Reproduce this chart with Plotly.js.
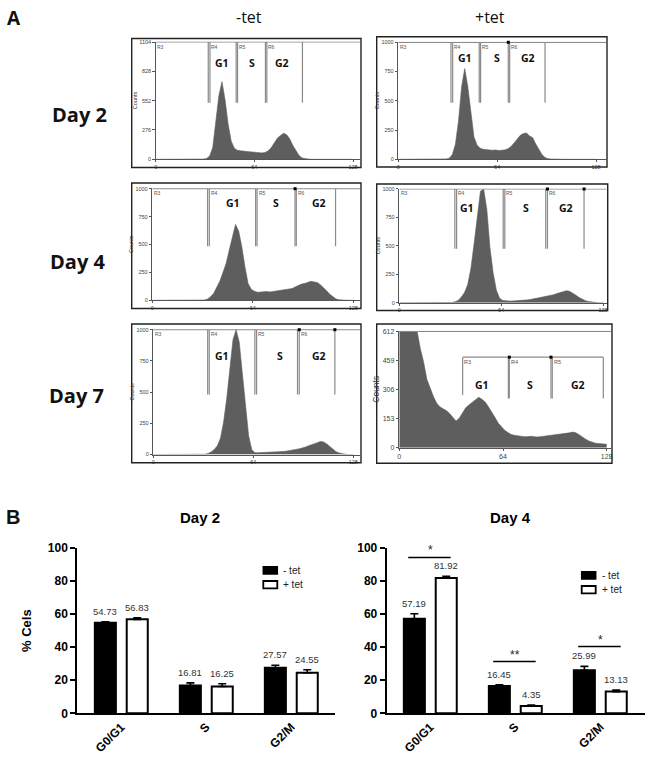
<!DOCTYPE html>
<html><head><meta charset="utf-8">
<script src="https://cdn.plot.ly/plotly-3.0.1.min.js"></script>
<style>html,body{margin:0;padding:0;background:#fff;}#chart{width:650px;height:759px;}</style>
</head><body><div id="chart"></div>
<script>
// ---------- Panel A : DNA-content histograms (channel bins of width 2) ----------
const channels = [0,2,4,6,8,10,12,14,16,18,20,22,24,26,28,30,32,34,36,38,40,42,44,46,48,50,52,54,56,58,60,62,64,66,68,70,72,74,76,78,80,82,84,86,88,90,92,94,96,98,100,102,104,106,108,110,112,114,116,118,120,122,124,126];

const countsDay2MinusTet = [0,0,0,0,0,0,0,0,0,0,0,0,0,0,0, 2,8,30,110,330,600,730,560,330,170, 105,85,80,75,72,70,68,65,62,60, 65,80,110,150,200,225,245,230,190,130, 80,35,12,5,2, 0,0,0,0,0,0,0,0,0,0,0,0,0,0];
const countsDay2PlusTet = [0,0,0,0,0,0,0,0,0,0,0,0,0,0,0, 3,10,40,130,330,620,775,620,380,190, 120,95,85,80,80,78,80,75,78,80, 90,110,140,175,205,220,225,200,185,130, 80,40,15,5,2, 0,0,0,0,0,0,0,0,0,0,0,0,0,0];
const countsDay4MinusTet = [0,0,0,0,0,0,0,0,0,0,0,0,0,0,0,0, 2,10,30,60,110,170,250,330,450,560, 680,620,480,300,150,100,80,72,75,72, 78,75,80,85,88,95,100,100,105,120, 135,145,150,160,170,165,160,140,115,85, 55,30,12,4,1, 0,0,0];
const countsDay4PlusTet = [0,0,0,0,0,0,0,0,0,0,0,0,0,0,0,0, 2,8,20,50,90,160,300,520,760,980, 1000,820,480,260,110,40,20,15,14,15, 16,18,20,22,25,30,35,40,45,50, 55,62,70,80,90,100,105,100,85,65, 45,30,18,10,5,2, 0,0];
const countsDay7MinusTet = [0,0,0,0,0,0,0,0,0,0,0,0,0,0,0,0, 2,8,20,40,70,130,260,450,700,920, 1000,900,650,380,150,40,15,14,15,14, 16,15,18,20,22,24,27,30,35,40, 45,50,58,68,75,85,95,105,100,85, 65,40,22,12,5,2, 0,0];
const countsDay7PlusTet = [612,612,612,612,612,612, 520,450,360,310,270,235,215,205,195,180, 160,140,155,185,210,225,240,255,265,255, 240,215,190,160,130,110,92,80,70,65, 62,60,58,58,60,58,56,58,60,62, 63,65,68,70,72,75,78,82,78,68, 55,45,35,28,24,22,20,18];

const xTicksHist = [0,64,128];
const yTicksDay2MinusTet = [0,276,552,828,1104];
const yTicksThousand = [0,250,500,750,1000];
const yTicksDay7PlusTet = [0,153,306,459,612];

const phaseNames = ['G1','S','G2'];
const gateNamesA = ['R3','R4','R5','R6'];
const gateNamesB = ['R3','R4','R5'];

// gate marker positions (channel)
const gateEdgesDay2Minus = [34.1,35.2,52.2,53.1,71.2,72.1,95.2];
const gateEdgesDay2Plus  = [34.1,35.2,52.4,53.3,71.2,72.1,95.0];
const gateEdgesDay4Minus = [35.2,36.3,65.8,66.7,90.9,91.7,116.7];
const gateEdgesDay4Plus  = [34.9,36.0,65.3,66.3,92.0,93.1,116.1];
const gateEdgesDay7Minus = [34.8,35.8,65.0,66.1,92.3,93.4,116.2];
const gateEdgesDay7Plus  = [39.1,67.3,67.9,93.6,94.4,125.9];
const gateBottomsDay7Plus = [277,259,259,259,259,259];

const gateStartsDay2Minus = [0,35.2,53.1,72.1];
const gateStartsDay2Plus  = [0,35.2,53.3,72.1];
const gateStartsDay4Minus = [0,36.3,66.7,91.7];
const gateStartsDay4Plus  = [0,36.0,66.3,93.1];
const gateStartsDay7Minus = [0,35.8,66.1,93.4];
const gateStartsDay7Plus  = [39.1,67.9,94.4];

const phaseXDay2Minus = [42.8,62.6,82.2];
const phaseXDay2Plus  = [43.2,63.7,83.7];
const phaseXDay4Minus = [51.2,78.5,106.3];
const phaseXDay4Plus  = [42.3,79.3,105.0];
const phaseXDay7Minus = [43.7,81.0,106.2];
const phaseXDay7Plus  = [50.8,80.7,110.5];

const dotsDay2Plus = [71.2];
const dotsDay4Minus = [90.9];
const dotsDay4Plus = [93.1,116.1];
const dotsDay7Minus = [93.4,116.2];
const dotsDay7Plus = [67.9,93.6];

// ---------- Panel B : % cells per phase ----------
const phasesB = ['G0/G1','S','G2/M'];
const minusTetDay2 = [54.73,16.81,27.57];
const plusTetDay2  = [56.83,16.25,24.55];
const minusTetDay2Err = [0.6,1.6,1.5];
const plusTetDay2Err  = [1.0,1.6,1.8];
const minusTetDay4 = [57.19,16.45,25.99];
const plusTetDay4  = [81.92,4.35,13.13];
const minusTetDay4Err = [3.0,0.8,2.4];
const plusTetDay4Err  = [1.0,0.6,1.0];
const sigDay4Y = [94.3,31.3,40.4];
const sigDay4Marks = ['*','**','*'];

// ---------- layout helpers ----------
const W = 650, H = 759;
const fx = p => p / W, fy = p => 1 - p / H;
const SANS = 'Liberation Sans, Arial, sans-serif';
const CAL = 'Open Sans, Noto Sans, sans-serif';

const panels = [
  {counts: countsDay2MinusTet, ymax: 1104, yt: yTicksDay2MinusTet, edges: gateEdgesDay2Minus, bottom: 533, gateTop: null, starts: gateStartsDay2Minus, names: gateNamesA, phaseX: phaseXDay2Minus, phaseY: 903, dots: [], px0: 155.7, px128: 353, right: 360, py0: 159.3, pyTop: 42, box: [131.7,38.5,361,167.5], fs: 5.5},
  {counts: countsDay2PlusTet, ymax: 1000, yt: yTicksThousand, edges: gateEdgesDay2Plus, bottom: 484, gateTop: null, starts: gateStartsDay2Plus, names: gateNamesA, phaseX: phaseXDay2Plus, phaseY: 863, dots: dotsDay2Plus, px0: 398.3, px128: 596, right: 606, py0: 159.3, pyTop: 42.3, box: [376.7,36.7,607,167], fs: 5.5},
  {counts: countsDay4MinusTet, ymax: 1000, yt: yTicksThousand, edges: gateEdgesDay4Minus, bottom: 484, gateTop: null, starts: gateStartsDay4Minus, names: gateNamesA, phaseX: phaseXDay4Minus, phaseY: 872, dots: dotsDay4Minus, px0: 152.3, px128: 353.3, right: 360, py0: 300.3, pyTop: 188.7, box: [131.7,183,361,308.5], fs: 5.5},
  {counts: countsDay4PlusTet, ymax: 1000, yt: yTicksThousand, edges: gateEdgesDay4Plus, bottom: 475, gateTop: null, starts: gateStartsDay4Plus, names: gateNamesA, phaseX: phaseXDay4Plus, phaseY: 833, dots: dotsDay4Plus, px0: 399.3, px128: 603, right: 606.7, py0: 302.7, pyTop: 189, box: [376.7,184,607.7,310.5], fs: 5.5},
  {counts: countsDay7MinusTet, ymax: 1000, yt: yTicksThousand, edges: gateEdgesDay7Minus, bottom: 481, gateTop: null, starts: gateStartsDay7Minus, names: gateNamesA, phaseX: phaseXDay7Minus, phaseY: 788, dots: dotsDay7Minus, px0: 153.3, px128: 353.3, right: 360, py0: 454.5, pyTop: 329.7, box: [131.7,324,361,462.7], fs: 5.5},
  {counts: countsDay7PlusTet, ymax: 612, yt: yTicksDay7PlusTet, edges: gateEdgesDay7Plus, bottoms: gateBottomsDay7Plus, gateTop: 476, starts: gateStartsDay7Plus, names: gateNamesB, phaseX: phaseXDay7Plus, phaseY: 330, dots: dotsDay7Plus, px0: 399.3, px128: 606.7, right: 611, py0: 447.7, pyTop: 331.3, box: [376.7,324,612,463.3], fs: 7}
];

const traces = [], annotations = [], shapes = [];
const layout = {
  width: W, height: H, autosize: false,
  margin: {l: 0, r: 0, t: 0, b: 0, pad: 0},
  paper_bgcolor: '#fff', plot_bgcolor: 'rgba(0,0,0,0)',
  showlegend: false, barmode: 'group', bargap: 0.25, bargroupgap: 0.34,
  font: {family: SANS, color: '#000'}
};

const PAD = 1.004;
panels.forEach((p, i) => {
  const n = i + 1;
  const xa = n === 1 ? 'x' : 'x' + n, ya = n === 1 ? 'y' : 'y' + n;
  const pxPerCh = (p.px128 - p.px0) / 128;
  const xmax = (p.right - p.px0) / pxPerCh;
  const topPix = p.py0 - (p.py0 - p.pyTop) * PAD;
  layout['xaxis' + (n === 1 ? '' : n)] = {
    domain: [fx(p.px0), fx(p.right)], range: [0, xmax], anchor: ya,
    tickvals: xTicksHist, ticktext: xTicksHist.map(String), ticks: 'outside', ticklen: 2, tickcolor: '#555',
    showline: true, linecolor: '#555', linewidth: 1, showgrid: false, zeroline: false,
    tickfont: {family: SANS, size: p.fs, color: '#444'}, fixedrange: true
  };
  layout['yaxis' + (n === 1 ? '' : n)] = {
    domain: [fy(p.py0), fy(topPix)], range: [0, p.ymax * PAD], anchor: xa,
    tickvals: p.yt, ticktext: p.yt.map(String), ticks: 'outside', ticklen: 2.5, tickcolor: '#555',
    showline: true, linecolor: '#555', linewidth: 1, showgrid: false, zeroline: false,
    tickfont: {family: SANS, size: p.fs, color: '#444'},
    title: {text: 'Counts', font: {family: SANS, size: p.fs + (n === 6 ? 1.5 : 0), color: '#333'}, standoff: 1},
    fixedrange: true
  };
  // histogram: each bin plotted at its centre channel
  const hx = [0].concat(channels.map(c => c + 1), [128]);
  const hy = [p.counts[0]].concat(p.counts, [p.counts[p.counts.length - 1]]);
  traces.push({
    type: 'scatter', mode: 'lines', xaxis: xa, yaxis: ya, hoverinfo: 'skip',
    x: hx, y: hy, line: {shape: 'linear', width: 0.6, color: '#5e5e5e'}, fill: 'tozeroy', fillcolor: '#5e5e5e'
  });
  // gate markers
  const gx = [], gy = [];
  gx.push(0, xmax, null); gy.push(p.ymax, p.ymax, null);
  if (p.gateTop === null) {
    p.edges.forEach(e => { gx.push(e, e, null); gy.push(p.ymax, p.bottom, null); });
  } else {
    gx.push(p.edges[0], p.edges[p.edges.length - 1], null); gy.push(p.gateTop, p.gateTop, null);
    p.edges.forEach((e, k) => { gx.push(e, e, null); gy.push(p.gateTop, p.bottoms[k], null); });
  }
  traces.push({type: 'scatter', mode: 'lines', xaxis: xa, yaxis: ya, hoverinfo: 'skip',
    x: gx, y: gy, line: {color: '#8a8a8a', width: 1.2}});
  if (p.dots.length) {
    const yy = p.gateTop === null ? p.ymax : p.gateTop;
    traces.push({type: 'scatter', mode: 'markers', xaxis: xa, yaxis: ya, hoverinfo: 'skip', cliponaxis: false,
      x: p.dots, y: p.dots.map(() => yy), marker: {symbol: 'square', size: 3, color: '#000'}});
  }
  // gate names
  const gTop = p.gateTop === null ? p.ymax : p.gateTop;
  p.names.forEach((nm, k) => {
    annotations.push({xref: xa, yref: ya, x: p.starts[k], y: gTop, text: nm, showarrow: false,
      xanchor: 'left', yanchor: 'top', xshift: 0.5, yshift: -0.5, borderpad: 0,
      font: {family: SANS, size: n === 6 ? 5.5 : 5, color: '#555'}});
  });
  // phase labels
  phaseNames.forEach((nm, k) => {
    annotations.push({xref: xa, yref: ya, x: p.phaseX[k], y: p.phaseY, text: nm, showarrow: false,
      xanchor: 'center', yanchor: 'middle', font: {family: CAL, size: 10.5, weight: 'bold', color: '#111'}});
  });
  // frame
  shapes.push({type: 'rect', xref: 'paper', yref: 'paper', x0: fx(p.box[0]), x1: fx(p.box[2]), y0: fy(p.box[3]), y1: fy(p.box[1]),
    line: {color: '#222', width: 1.4}, fillcolor: 'rgba(0,0,0,0)'});
});

// panel A headings
const headA = [
  {t: 'A', x: 14, y: 18, s: 19, b: true},
  {t: '-tet', x: 249, y: 17, s: 16, b: false},
  {t: '+tet', x: 490, y: 17, s: 16, b: false},
  {t: 'Day 2', x: 79, y: 115, s: 20, b: true},
  {t: 'Day 4', x: 77.7, y: 261.7, s: 20, b: true},
  {t: 'Day 7', x: 76, y: 395, s: 20, b: true}
];
headA.forEach(h => annotations.push({xref: 'paper', yref: 'paper', x: fx(h.x), y: fy(h.y), text: h.t, showarrow: false,
  xanchor: 'center', yanchor: 'middle', font: {family: CAL, size: h.s, weight: h.b ? 'bold' : 'normal', color: '#111'}}));

// ---------- Panel B bar charts ----------
const barCharts = [
  {minus: minusTetDay2, plus: plusTetDay2, minusErr: minusTetDay2Err, plusErr: plusTetDay2Err, n: 7,
   xd: [77.3, 335], title: 'Day 2', tx: 200, legX: 263.3, legY: 566.7},
  {minus: minusTetDay4, plus: plusTetDay4, minusErr: minusTetDay4Err, plusErr: plusTetDay4Err, n: 8,
   xd: [386.7, 645], title: 'Day 4', tx: 510, legX: 581.7, legY: 571.7}
];
barCharts.forEach(c => {
  const xa = 'x' + c.n, ya = 'y' + c.n;
  const c0 = c.n === 7 ? 121.3 : 430.3;
  layout['xaxis' + c.n] = {
    domain: [fx(c.xd[0]), fx(c.xd[1])], type: 'category', range: [(c.xd[0] - c0) / 85, (c.xd[1] - c0) / 85], anchor: ya,
    showline: true, linecolor: '#000', linewidth: 2, ticks: '', tickangle: -45, showgrid: false, zeroline: false,
    tickfont: {family: SANS, size: 12, weight: 'bold', color: '#000'}, fixedrange: true
  };
  layout['yaxis' + c.n] = {
    domain: [fy(713.3), fy(548)], range: [0, 100], anchor: xa, tickvals: [0,20,40,60,80,100],
    ticks: 'outside', ticklen: 5, tickwidth: 2, tickcolor: '#000',
    showline: true, linecolor: '#000', linewidth: 2, showgrid: false, zeroline: false,
    tickfont: {family: SANS, size: 12, weight: 'bold', color: '#000'}, fixedrange: true,
    title: c.n === 7 ? {text: '% Cels', font: {family: SANS, size: 13, weight: 'bold', color: '#000'}, standoff: 13} : {text: ''}
  };
  [[c.minus, c.minusErr, '#000', -15.9], [c.plus, c.plusErr, '#fff', 15.9]].forEach(([vals, errs, col, sh]) => {
    traces.push({type: 'bar', x: phasesB, y: vals, xaxis: xa, yaxis: ya, hoverinfo: 'skip',
      marker: {color: col, line: {color: '#000', width: 2}},
      error_y: {type: 'data', array: errs, arrayminus: errs.map(() => 0), symmetric: false, color: '#000', thickness: 1.6, width: 4}});
    vals.forEach((v, i) => annotations.push({xref: xa, yref: ya, x: phasesB[i], y: v + errs[i], text: v.toFixed(2),
      showarrow: false, xshift: sh, yshift: 3, yanchor: 'bottom', font: {family: SANS, size: 9.5, color: '#333'}}));
  });
  annotations.push({xref: 'paper', yref: 'paper', x: fx(c.tx), y: fy(517), text: c.title, showarrow: false,
    xanchor: 'center', yanchor: 'middle', font: {family: SANS, size: 15, weight: 'bold', color: '#000'}});
  // legend
  shapes.push({type: 'rect', xref: 'paper', yref: 'paper', x0: fx(c.legX), x1: fx(c.legX + 14), y0: fy(c.legY + 7.3), y1: fy(c.legY),
    fillcolor: '#000', line: {color: '#000', width: 1.5}});
  shapes.push({type: 'rect', xref: 'paper', yref: 'paper', x0: fx(c.legX), x1: fx(c.legX + 14), y0: fy(c.legY + 21.6), y1: fy(c.legY + 14.3),
    fillcolor: '#fff', line: {color: '#000', width: 1.8}});
  annotations.push({xref: 'paper', yref: 'paper', x: fx(c.legX + 18), y: fy(c.legY + 3.6), text: '- tet', showarrow: false,
    xanchor: 'left', yanchor: 'middle', font: {family: SANS, size: 10, color: '#222'}});
  annotations.push({xref: 'paper', yref: 'paper', x: fx(c.legX + 18), y: fy(c.legY + 18), text: '+ tet', showarrow: false,
    xanchor: 'left', yanchor: 'middle', font: {family: SANS, size: 10, color: '#222'}});
});
// significance bars on Day 4
sigDay4Y.forEach((y, i) => {
  shapes.push({type: 'line', xref: 'x8', yref: 'y8', x0: i - 0.26, x1: i + 0.24, y0: y, y1: y, line: {color: '#000', width: 1.5}});
  annotations.push({xref: 'x8', yref: 'y8', x: phasesB[i], y: y, text: sigDay4Marks[i], showarrow: false,
    yanchor: 'bottom', yshift: -2, font: {family: SANS, size: 12, color: '#222'}});
});
annotations.push({xref: 'paper', yref: 'paper', x: fx(13.3), y: fy(516.7), text: 'B', showarrow: false,
  xanchor: 'center', yanchor: 'middle', font: {family: SANS, size: 20, weight: 'bold', color: '#111'}});

layout.annotations = annotations;
layout.shapes = shapes;
Plotly.newPlot('chart', traces, layout, {staticPlot: true, displayModeBar: false});
</script>
</body></html>
